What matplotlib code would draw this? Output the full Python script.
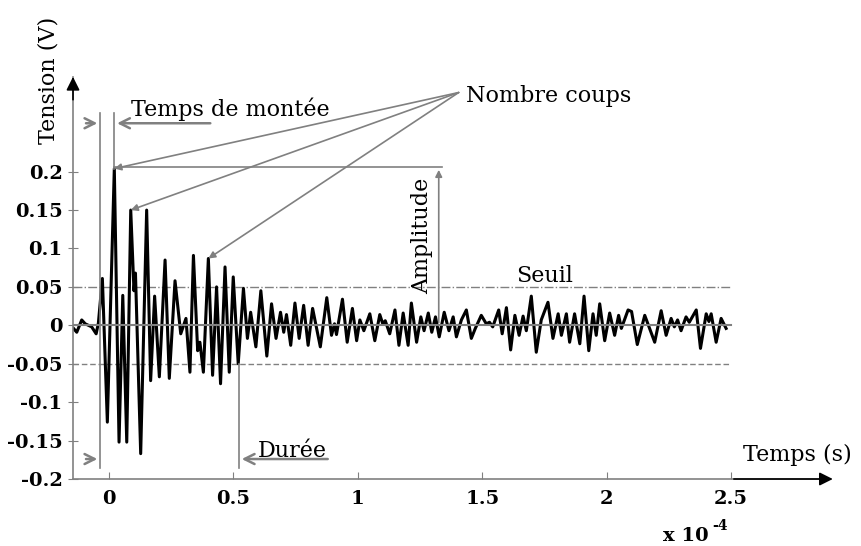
import matplotlib.pyplot as plt

# time (x 1e-4 s) and voltage (V) of the signal, read at its turning points
t = [-0.143, -0.130, -0.110, -0.096, -0.083, -0.070, -0.052, -0.043, -0.027, -0.007,
     0.021, 0.040, 0.055, 0.071, 0.087, 0.100, 0.106, 0.127, 0.151, 0.167,
     0.183, 0.202, 0.225, 0.242, 0.265, 0.288, 0.309, 0.325, 0.339, 0.356,
     0.365, 0.379, 0.399, 0.416, 0.432, 0.448, 0.466, 0.483, 0.499, 0.519,
     0.540, 0.556, 0.569, 0.590, 0.610, 0.634, 0.653, 0.671, 0.689, 0.702,
     0.713, 0.730, 0.747, 0.764, 0.782, 0.800, 0.818, 0.849, 0.875, 0.894,
     0.906, 0.914, 0.938, 0.957, 0.978, 0.995, 1.008, 1.024, 1.048, 1.068,
     1.088, 1.100, 1.110, 1.128, 1.149, 1.165, 1.182, 1.202, 1.215, 1.236,
     1.253, 1.266, 1.283, 1.297, 1.312, 1.327, 1.347, 1.366, 1.383, 1.396,
     1.416, 1.436, 1.456, 1.472, 1.496, 1.516, 1.529, 1.542, 1.566, 1.580,
     1.597, 1.614, 1.631, 1.648, 1.664, 1.677, 1.697, 1.717, 1.737, 1.764,
     1.784, 1.805, 1.818, 1.838, 1.851, 1.871, 1.892, 1.909, 1.928, 1.945,
     1.958, 1.972, 1.992, 2.012, 2.032, 2.048, 2.059, 2.086, 2.100, 2.123,
     2.153, 2.193, 2.219, 2.239, 2.259, 2.272, 2.285, 2.299, 2.319, 2.332,
     2.360, 2.377, 2.400, 2.411, 2.420, 2.440, 2.460, 2.480]
v = [-0.004, -0.009, 0.007, 0.002, 0.000, -0.002, -0.011, 0.003, 0.061, -0.126,
     0.204, -0.152, 0.039, -0.152, 0.150, 0.045, 0.068, -0.167, 0.150, -0.072,
     0.038, -0.067, 0.085, -0.069, 0.058, -0.011, 0.009, -0.061, 0.091, -0.033,
     -0.022, -0.061, 0.087, -0.065, 0.050, -0.076, 0.076, -0.061, 0.063, -0.050,
     0.048, -0.017, 0.017, -0.028, 0.045, -0.040, 0.028, -0.017, 0.017, -0.009,
     0.014, -0.026, 0.029, -0.017, 0.026, -0.026, 0.022, -0.028, 0.036, -0.013,
     0.002, -0.012, 0.034, -0.022, 0.022, -0.020, 0.007, -0.007, 0.015, -0.020,
     0.014, 0.002, 0.006, -0.011, 0.020, -0.026, 0.016, -0.026, 0.029, -0.022,
     0.011, -0.007, 0.016, -0.009, 0.011, -0.015, 0.017, -0.007, 0.011, -0.015,
     0.007, 0.020, -0.017, -0.004, 0.013, 0.002, 0.004, -0.002, 0.020, -0.011,
     0.023, -0.032, 0.013, -0.013, 0.012, -0.007, 0.038, -0.035, 0.007, 0.030,
     -0.017, 0.015, -0.013, 0.015, -0.022, 0.015, -0.024, 0.038, -0.033, 0.015,
     -0.013, 0.028, -0.020, 0.016, -0.013, 0.013, -0.004, 0.020, 0.018, -0.025,
     0.013, -0.022, 0.019, -0.013, 0.009, -0.002, 0.007, -0.007, 0.011, 0.004,
     0.020, -0.030, 0.015, 0.005, 0.015, -0.022, 0.009, -0.004]

xticks = [0, 0.5, 1, 1.5, 2, 2.5]
xlabels = ['0', '0.5', '1', '1.5', '2', '2.5']
yticks = [-0.2, -0.15, -0.1, -0.05, 0, 0.05, 0.1, 0.15, 0.2]
ylabels = ['-0.2', '-0.15', '-0.1', '-0.05', '0', '0.05', '0.1', '0.15', '0.2']

threshold = 0.05
t_first = -0.036     # first threshold crossing
t_last = 0.522       # last threshold crossing
counted = [10, 14, 32]   # peaks pointed at by "Nombre coups"

plt.rcParams['font.family'] = 'DejaVu Serif'
grey = '#808080'

fig = plt.figure(figsize=(8.61, 5.46), dpi=100)
ax = fig.add_axes([0.0848, 0.1227, 0.877, 0.736])
xmin, xmax = -0.145, 2.89
ax.set_xlim(xmin, xmax)
ax.set_ylim(-0.2, 0.323)

ax.plot(t, v, color='black', lw=2.2, zorder=2, solid_joinstyle='round')
ax.plot([xmin, 2.5], [0, 0], color=grey, lw=1.5, zorder=3)
ax.plot([xmin, 2.5], [threshold, threshold], color=grey, lw=1, ls='-.', zorder=1)
ax.plot([xmin, 2.5], [-threshold, -threshold], color=grey, lw=1, ls=(0, (4, 2)), zorder=1)

for s in ['top', 'right']:
    ax.spines[s].set_visible(False)
for s in ['left', 'bottom']:
    ax.spines[s].set_color(grey)
    ax.spines[s].set_linewidth(1.2)

ax.set_xticks(xticks)
ax.set_xticklabels(xlabels, fontweight='bold')
ax.set_yticks(yticks)
ax.set_yticklabels(ylabels, fontweight='bold')
ax.tick_params(axis='x', direction='in', length=5, color=grey, labelsize=14, pad=8)
ax.tick_params(axis='y', direction='inout', length=7, color=grey, labelsize=14, pad=4)

# axis arrows
ax.annotate('', xy=(2.92, -0.2), xytext=(2.5, -0.2), annotation_clip=False,
            arrowprops=dict(arrowstyle='-|>', color='black', lw=1.2, mutation_scale=20))
ax.annotate('', xy=(xmin, 0.327), xytext=(xmin, 0.29), annotation_clip=False,
            arrowprops=dict(arrowstyle='-|>', color='black', lw=1.2, mutation_scale=20))

# rise time and duration markers
i_max = v.index(max(v))
t_peak, v_peak = t[i_max], v[i_max]
ax.plot([t_first, t_first], [0.276, -0.186], color=grey, lw=1.2)
ax.plot([t_peak, t_peak], [0.276, v_peak], color=grey, lw=1.2)
ax.plot([t_last, t_last], [-threshold, -0.186], color=grey, lw=1.2)

chev = dict(arrowstyle='->', color=grey, lw=1.8, mutation_scale=18)
ax.annotate('', xy=(t_first, 0.263), xytext=(-0.104, 0.263), arrowprops=chev)
ax.annotate('', xy=(t_peak, 0.263), xytext=(0.418, 0.263), arrowprops=chev)
ax.annotate('', xy=(t_first, -0.174), xytext=(-0.104, -0.174), arrowprops=chev)
ax.annotate('', xy=(t_last, -0.174), xytext=(0.89, -0.174), arrowprops=chev)

# amplitude
ax.plot([t_peak, 1.34], [v_peak + 0.002, v_peak + 0.002], color=grey, lw=1.2)
ax.annotate('', xy=(1.325, v_peak + 0.002), xytext=(1.325, 0),
            arrowprops=dict(arrowstyle='-|>', color=grey, lw=1.2, mutation_scale=10))

# counts
for i in counted:
    ax.annotate('', xy=(t[i], v[i]), xytext=(1.405, 0.303),
                arrowprops=dict(arrowstyle='-|>', color=grey, lw=1.2, mutation_scale=10,
                                shrinkA=0, shrinkB=0))

ax.text(0.088, 0.273, 'Temps de montée', fontsize=16, va='baseline', clip_on=False)
ax.text(1.434, 0.291, 'Nombre coups', fontsize=16, va='baseline', clip_on=False)
ax.text(1.257, 0.116, 'Amplitude', fontsize=16, rotation=90, ha='center', va='center')
ax.text(1.75, 0.056, 'Seuil', fontsize=16, ha='center', va='baseline')
ax.text(0.598, -0.171, 'Durée', fontsize=16, va='baseline')
ax.text(2.546, -0.176, 'Temps (s)', fontsize=16, va='baseline', clip_on=False)

fig.text(48 / 861, 1 - 80 / 546, 'Tension (V)', fontsize=16, rotation=90, ha='center', va='center')
fig.text(663 / 861, 1 - 541 / 546, 'x 10', fontsize=14, fontweight='bold', va='baseline')
fig.text(712 / 861, 1 - 530 / 546, '-4', fontsize=10, fontweight='bold', va='baseline')

fig.savefig('out.png', dpi=100)
